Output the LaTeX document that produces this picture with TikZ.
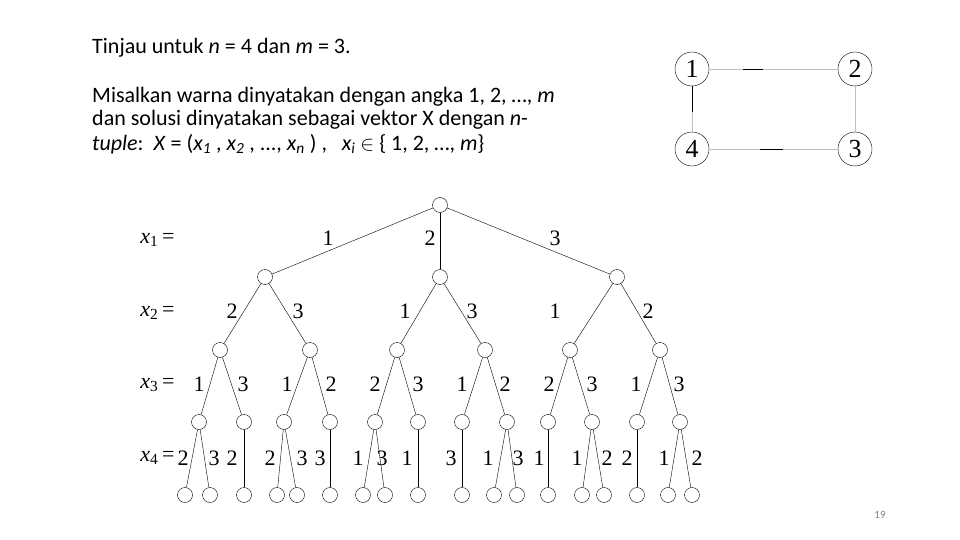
\documentclass[tikz,border=0pt]{standalone}
\usepackage{fontspec}
\setmainfont{Carlito}
\newfontfamily\tms{Liberation Serif}
\begin{document}
\begin{tikzpicture}[x=1pt,y=-1pt,
  tn/.style={circle,draw,thin,minimum size=15pt,inner sep=0pt},
  gn/.style={circle,draw,thin,minimum size=34pt,inner sep=0pt,font=\tms\fontsize{26}{26}\selectfont},
  lb/.style={font=\tms\fontsize{22}{22}\selectfont},
  txt/.style={anchor=west,inner sep=0pt,font=\fontsize{22}{23}\selectfont},
  edge/.style={thin}]
\useasboundingbox (0,0) rectangle (960,540);
% text
\node[txt] (t1) at (92,48) {Tinjau untuk \textit{n} = 4 dan \textit{m} = 3.};
\node[txt] (t2) at (92,97) {Misalkan warna dinyatakan dengan angka 1, 2, …, \textit{m}};
\node[txt] (t3) at (92,120) {dan solusi dinyatakan sebagai vektor X dengan \textit{n}-};
\node[txt] (t4) at (92,144) {\textit{tuple}:\ \ \textit{X} = (\textit{x\textsubscript{1}} , \textit{x\textsubscript{2}} , ..., \textit{x\textsubscript{n}} ) ,\ \ \ \textit{x\textsubscript{i}} $\in$ \{ 1, 2, …, \textit{m}\}};
\node[font=\fontsize{11}{11}\selectfont,text=gray] (pg) at (880,515) {19};
% graph
\node[gn] (g1) at (692,69) {1};
\node[gn] (g2) at (855,69) {2};
\node[gn] (g3) at (855,149) {3};
\node[gn] (g4) at (692,149) {4};
\draw[gray!50] (g1) -- (g2); \draw[gray!50] (g2) -- (g3);
\draw[gray!50] (g3) -- (g4); \draw[gray!50] (g4) -- (g1);
\draw[thick] (743,69) -- (763,69);
\draw[thick] (760,149) -- (783,149);
\draw[thick] (692,86) -- (692,112);
% level labels
\node[lb,anchor=east] (l1) at (178,240) {\textit{x}\textsubscript{1}\,=};
\node[lb,anchor=east] (l2) at (178,313) {\textit{x}\textsubscript{2}\,=};
\node[lb,anchor=east] (l3) at (178,385) {\textit{x}\textsubscript{3}\,=};
\node[lb,anchor=east] (l4) at (178,458) {\textit{x}\textsubscript{4}\,=};
% tree nodes
\node[tn] (r) at (440,205) {};
\node[tn] (a) at (265,277) {};
\node[tn] (b) at (440,277) {};
\node[tn] (c) at (617,277) {};
\foreach \n/\x in {a1/220,a2/310,b1/397,b2/485,c1/570,c2/660}
  \node[tn] (\n) at (\x,350) {};
\foreach \n/\x in {d1/199,d2/244,d3/284,d4/330,d5/375,d6/418,d7/462,d8/507,d9/548,d10/592,d11/637,d12/680}
  \node[tn] (\n) at (\x,422) {};
\foreach \n/\x in {e1/185,e2/210,e3/244,e4/277,e5/297,e6/330,e7/363,e8/385,e9/418,e10/462,e11/494,e12/517,e13/548,e14/582,e15/604,e16/637,e17/668,e18/692}
  \node[tn] (\n) at (\x,495) {};
% edges
\foreach \p/\q in {r/a,r/b,r/c,a/a1,a/a2,b/b1,b/b2,c/c1,c/c2,
  a1/d1,a1/d2,a2/d3,a2/d4,b1/d5,b1/d6,b2/d7,b2/d8,c1/d9,c1/d10,c2/d11,c2/d12,
  d1/e1,d1/e2,d2/e3,d3/e4,d3/e5,d4/e6,d5/e7,d5/e8,d6/e9,d7/e10,d8/e11,d8/e12,d9/e13,d10/e14,d10/e15,d11/e16,d12/e17,d12/e18}
  \draw[edge] (\p) -- (\q);
% edge labels
\foreach \x/\y/\t in {328/238/1,430/238/2,555/238/3,
  232/311/2,298/311/3,405/311/1,472/311/3,555/311/1,648/311/2,
  199/384/1,243/384/3,287/384/1,331/384/2,375/384/2,418/384/3,462/384/1,505/384/2,549/384/2,592/384/3,636/384/1,679/384/3,
  183/458/2,214/458/3,232/458/2,270/458/2,302/458/3,320/458/3,358/458/1,382/458/3,407/458/1,451/458/3,488/458/1,518/458/3,539/458/1,577/458/1,607/458/2,627/458/2,664/458/1,697/458/2}
  \node[lb,inner sep=0.5pt] at (\x,\y) {\t};
\end{tikzpicture}
\end{document}
